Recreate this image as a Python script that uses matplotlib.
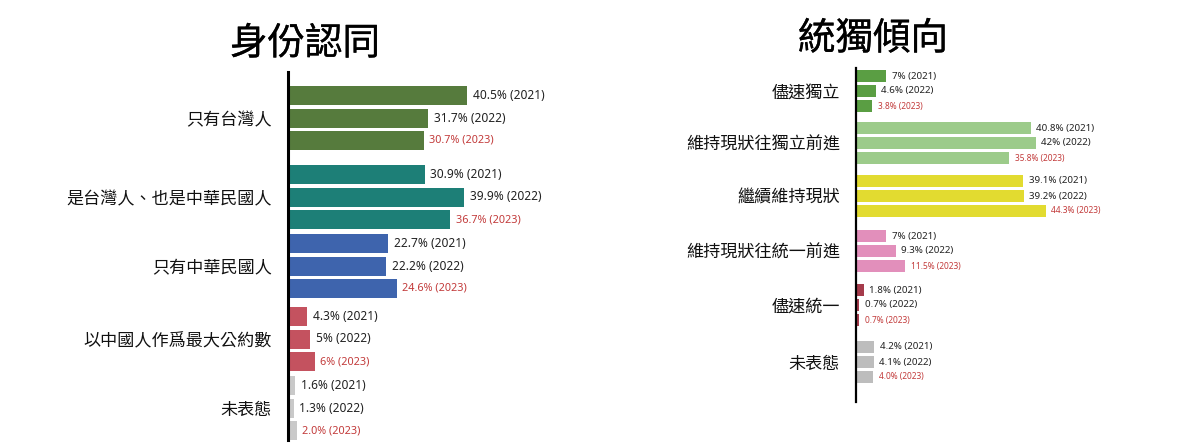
import matplotlib
matplotlib.use("Agg")
import matplotlib.pyplot as plt
import matplotlib.patheffects as pe

# ---------------- data ----------------
years = ["2021", "2022", "2023"]

id_title = "身份認同"
id_categories = ["只有台灣人", "是台灣人、也是中華民國人", "只有中華民國人", "以中國人作爲最大公約數", "未表態"]
id_2021 = [40.5, 30.9, 22.7, 4.3, 1.6]
id_2022 = [31.7, 39.9, 22.2, 5.0, 1.3]
id_2023 = [30.7, 36.7, 24.6, 6.0, 2.0]
id_labels_2021 = ["40.5%", "30.9%", "22.7%", "4.3%", "1.6%"]
id_labels_2022 = ["31.7%", "39.9%", "22.2%", "5%", "1.3%"]
id_labels_2023 = ["30.7%", "36.7%", "24.6%", "6%", "2.0%"]
id_colors = ["#567b3d", "#1d7f77", "#3e64ad", "#c4525f", "#c9c9c9"]

ui_title = "統獨傾向"
ui_categories = ["儘速獨立", "維持現狀往獨立前進", "繼續維持現狀", "維持現狀往統一前進", "儘速統一", "未表態"]
ui_2021 = [7.0, 40.8, 39.1, 7.0, 1.8, 4.2]
ui_2022 = [4.6, 42.0, 39.2, 9.3, 0.7, 4.1]
ui_2023 = [3.8, 35.8, 44.3, 11.5, 0.7, 4.0]
ui_labels_2021 = ["7%", "40.8%", "39.1%", "7%", "1.8%", "4.2%"]
ui_labels_2022 = ["4.6%", "42%", "39.2%", "9.3%", "0.7%", "4.1%"]
ui_labels_2023 = ["3.8%", "35.8%", "44.3%", "11.5%", "0.7%", "4.0%"]
ui_colors = ["#5a9e43", "#9ccb8a", "#e2db30", "#e28fbb", "#a53b4b", "#bdbdbd"]

# ---------------- layout (pixel space) ----------------
CJK = ["Noto Sans CJK TC", "DejaVu Sans"]
NUM = ["Noto Sans", "DejaVu Sans"]
RED = "#c23a3a"
W, H = 1200, 446
id_centers = [118, 197, 266, 339, 408]
ui_centers = [91, 143, 196, 251, 305, 362]

fig = plt.figure(figsize=(W / 100, H / 100), dpi=100)
fig.patch.set_facecolor("white")


def px_axes(x0, y0, x1, y1):
    return fig.add_axes([x0 / W, 1 - y1 / H, (x1 - x0) / W, (y1 - y0) / H])


def draw_panel(ax, cats, centers, series, labels, colors, step, bar_h, xmax, ylim,
               fs_val, fs_red, cat_fs, spine_lw):
    offsets = [-step, 0.0, step]
    for j, (vals, labs) in enumerate(zip(series, labels)):
        ys = [c + offsets[j] for c in centers]
        ax.barh(ys, vals, height=bar_h, color=colors, zorder=2)
        for y, v, lab in zip(ys, vals, labs):
            txt = f"{lab} ({years[j]})"
            is_red = j == 2
            ax.annotate(txt, xy=(v, y), xytext=(4, 0), textcoords="offset points",
                        ha="left", va="center",
                        fontsize=fs_red if is_red else fs_val,
                        color=RED if is_red else "#222222",
                        family=NUM)
    ax.set_xlim(0, xmax)
    ax.set_ylim(*ylim)
    ax.set_yticks(centers)
    ax.set_yticklabels(cats, family=CJK, fontsize=cat_fs, color="#111111")
    ax.tick_params(axis="y", length=0, pad=11.5)
    ax.set_xticks([])
    for s in ["top", "right", "bottom"]:
        ax.spines[s].set_visible(False)
    ax.spines["left"].set_linewidth(spine_lw)
    ax.spines["left"].set_color("black")
    ax.spines["left"].set_zorder(3)
    ax.patch.set_visible(False)


# left panel
axL = px_axes(288, 72, 600, 440)
draw_panel(axL, id_categories, id_centers, [id_2021, id_2022, id_2023],
           [id_labels_2021, id_labels_2022, id_labels_2023], id_colors,
           step=22.5, bar_h=19, xmax=312 / 4.42, ylim=(440, 72),
           fs_val=8.6, fs_red=7.8, cat_fs=12.3, spine_lw=2.2)

# right panel
axR = px_axes(856, 68, 1200, 402)
draw_panel(axR, ui_categories, ui_centers, [ui_2021, ui_2022, ui_2023],
           [ui_labels_2021, ui_labels_2022, ui_labels_2023], ui_colors,
           step=15, bar_h=12, xmax=344 / 4.28, ylim=(402, 68),
           fs_val=7.0, fs_red=6.0, cat_fs=12.3, spine_lw=1.6)

# titles
title_fx = [pe.withStroke(linewidth=0.2, foreground="#000000")]
fig.text(305 / W, 1 - 44 / H, id_title, ha="center", va="center",
         fontsize=27, family=CJK, color="#000000", path_effects=title_fx)
fig.text(873 / W, 1 - 39 / H, ui_title, ha="center", va="center",
         fontsize=27, family=CJK, color="#000000", path_effects=title_fx)

fig.savefig("out.png", dpi=100, facecolor="white")
